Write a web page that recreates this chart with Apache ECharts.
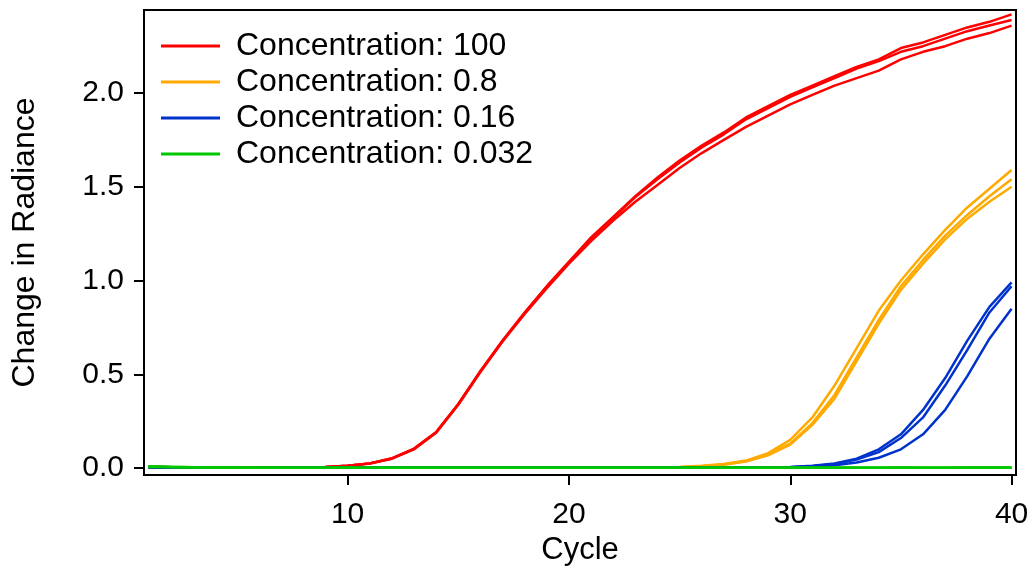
<!DOCTYPE html>
<html lang="en">
<head>
    <meta charset="UTF-8">
    <title>Change in Radiance</title>
    <script src="https://cdn.jsdelivr.net/npm/echarts@6/dist/echarts.min.js"></script>
    <style>
        *{ padding:0; margin:0; }
        #chart{ width:1034px; height:567px; background:#fff; }
    </style>
</head>
<body>
<div id="chart"></div>
<script type="text/javascript">
    var cycles = [1,2,3,4,5,6,7,8,9,10,11,12,13,14,15,16,17,18,19,20,21,22,23,24,25,26,27,28,29,30,31,32,33,34,35,36,37,38,39,40];
    var legendNames = ['Concentration: 100','Concentration: 0.8','Concentration: 0.16','Concentration: 0.032'];
    var colors = ['#ff0000','#ffaa00','#0033cc','#00c800'];
    var xTicks = [10,20,30,40];
    var yTicks = [0,0.5,1,1.5,2];

    // concentration 100 (3 replicates)
    var red1 = [0.006,0.005,0.005,0.004,0.004,0.004,0.004,0.005,0.006,0.012,0.025,0.052,0.104,0.192,0.342,0.518,0.68,0.83,0.97,1.10,1.23,1.34,1.45,1.55,1.64,1.72,1.79,1.87,1.93,1.99,2.04,2.09,2.14,2.18,2.24,2.27,2.31,2.35,2.38,2.42];
    var red2 = [0.006,0.005,0.005,0.004,0.004,0.004,0.004,0.005,0.006,0.012,0.024,0.051,0.102,0.19,0.34,0.515,0.678,0.828,0.968,1.098,1.225,1.335,1.445,1.54,1.63,1.71,1.78,1.86,1.92,1.98,2.03,2.08,2.13,2.17,2.22,2.25,2.29,2.33,2.36,2.39];
    var red3 = [0.006,0.005,0.005,0.004,0.004,0.004,0.004,0.005,0.006,0.012,0.024,0.05,0.1,0.188,0.338,0.512,0.675,0.822,0.96,1.09,1.21,1.32,1.42,1.51,1.60,1.68,1.75,1.82,1.88,1.94,1.99,2.04,2.08,2.12,2.18,2.22,2.25,2.29,2.32,2.36];
    // concentration 0.8
    var orange1 = [0.004,0.004,0.003,0.003,0.003,0.003,0.003,0.003,0.003,0.003,0.003,0.003,0.003,0.003,0.003,0.003,0.003,0.003,0.003,0.003,0.003,0.003,0.004,0.004,0.006,0.012,0.022,0.04,0.08,0.15,0.27,0.44,0.64,0.84,1.00,1.14,1.27,1.39,1.49,1.59];
    var orange2 = [0.004,0.004,0.003,0.003,0.003,0.003,0.003,0.003,0.003,0.003,0.003,0.003,0.003,0.003,0.003,0.003,0.003,0.003,0.003,0.003,0.003,0.003,0.004,0.004,0.005,0.01,0.02,0.037,0.072,0.13,0.24,0.39,0.59,0.79,0.97,1.11,1.24,1.35,1.45,1.54];
    var orange3 = [0.004,0.004,0.003,0.003,0.003,0.003,0.003,0.003,0.003,0.003,0.003,0.003,0.003,0.003,0.003,0.003,0.003,0.003,0.003,0.003,0.003,0.003,0.004,0.004,0.005,0.01,0.018,0.035,0.068,0.125,0.23,0.37,0.57,0.77,0.95,1.09,1.22,1.33,1.42,1.50];
    // concentration 0.16
    var blue1 = [0.004,0.003,0.003,0.003,0.003,0.003,0.003,0.003,0.003,0.003,0.003,0.003,0.003,0.003,0.003,0.003,0.003,0.003,0.003,0.003,0.003,0.003,0.003,0.003,0.003,0.003,0.003,0.004,0.005,0.006,0.012,0.025,0.05,0.10,0.18,0.31,0.48,0.68,0.86,0.99];
    var blue2 = [0.004,0.003,0.003,0.003,0.003,0.003,0.003,0.003,0.003,0.003,0.003,0.003,0.003,0.003,0.003,0.003,0.003,0.003,0.003,0.003,0.003,0.003,0.003,0.003,0.003,0.003,0.003,0.004,0.004,0.005,0.01,0.022,0.045,0.085,0.16,0.27,0.44,0.63,0.83,0.97];
    var blue3 = [0.004,0.003,0.003,0.003,0.003,0.003,0.003,0.003,0.003,0.003,0.003,0.003,0.003,0.003,0.003,0.003,0.003,0.003,0.003,0.003,0.003,0.003,0.003,0.003,0.003,0.003,0.003,0.003,0.004,0.004,0.008,0.015,0.03,0.055,0.10,0.18,0.31,0.49,0.69,0.85];
    // concentration 0.032
    var green1 = [0.01,0.007,0.005,0.004,0.003,0.003,0.002,0.002,0.002,0.002,0.002,0.002,0.002,0.002,0.002,0.002,0.002,0.002,0.002,0.002,0.002,0.002,0.002,0.002,0.002,0.002,0.002,0.002,0.002,0.002,0.002,0.002,0.002,0.002,0.003,0.002,0.002,0.003,0.003,0.003];
    var green2 = [0.008,0.006,0.004,0.003,0.003,0.002,0.002,0.002,0.002,0.002,0.002,0.002,0.002,0.002,0.002,0.002,0.002,0.002,0.002,0.002,0.002,0.002,0.002,0.002,0.002,0.002,0.002,0.002,0.002,0.002,0.002,0.002,0.002,0.002,0.002,0.002,0.002,0.002,0.002,0.002];
    var green3 = [0.005,0.004,0.003,0.003,0.002,0.002,0.002,0.002,0.002,0.002,0.002,0.002,0.002,0.002,0.002,0.002,0.002,0.002,0.002,0.002,0.002,0.002,0.002,0.002,0.002,0.002,0.002,0.002,0.002,0.002,0.002,0.002,0.002,0.002,0.002,0.002,0.002,0.002,0.002,0.002];

    var groups = [[red1,red2,red3],[orange1,orange2,orange3],[blue1,blue2,blue3],[green1,green2,green3]];

    var font = 'Liberation Sans';
    var series = [];
    for(var g=0;g<groups.length;g++){
        for(var r=0;r<groups[g].length;r++){
            var arr = groups[g][r];
            series.push({
                name: legendNames[g],
                type: 'line',
                showSymbol: false,
                symbol: 'none',
                animation: false,
                lineStyle: { color: colors[g], width: 2.5 },
                itemStyle: { color: colors[g] },
                data: cycles.map(function(c,i){ return [c, arr[i]]; })
            });
        }
    }

    var myChart = echarts.init(document.getElementById('chart'));
    var option = {
        backgroundColor: '#fff',
        animation: false,
        grid: {
            left: 144, right: 18, top: 10, bottom: 92,
            containLabel: false,
            outerBoundsMode: 'none',
            show: true, borderColor: '#000', borderWidth: 2, backgroundColor: 'transparent'
        },
        legend: {
            data: legendNames,
            orient: 'vertical',
            left: 161, top: 30,
            padding: 0,
            itemGap: 4,
            itemWidth: 59,
            itemHeight: 3,
            icon: 'rect',
            textStyle: { fontFamily: font, fontSize: 32, lineHeight: 31, color: '#000', padding: [0,0,0,11] }
        },
        xAxis: {
            type: 'value',
            min: 0.8, max: 40.2,
            name: 'Cycle',
            nameLocation: 'middle',
            nameGap: 59,
            nameTextStyle: { fontFamily: font, fontSize: 31, color: '#000' },
            axisLine: { show: false, onZero: false },
            splitLine: { show: false },
            axisTick: { show: true, length: 10, lineStyle: { color: '#000', width: 2 }, customValues: xTicks },
            axisLabel: { fontFamily: font, fontSize: 30, color: '#000', margin: 25, customValues: xTicks }
        },
        yAxis: {
            type: 'value',
            min: -0.037, max: 2.443,
            name: 'Change in Radiance',
            nameLocation: 'middle',
            nameGap: 103,
            nameTextStyle: { fontFamily: font, fontSize: 32, color: '#000' },
            axisLine: { show: false, onZero: false },
            splitLine: { show: false },
            axisTick: { show: true, length: 10, lineStyle: { color: '#000', width: 2 }, customValues: yTicks },
            axisLabel: {
                fontFamily: font, fontSize: 30, color: '#000', margin: 20, customValues: yTicks,
                formatter: function(v){ return v.toFixed(1); }
            }
        },
        series: series
    };
    myChart.setOption(option);
</script>
</body>
</html>
